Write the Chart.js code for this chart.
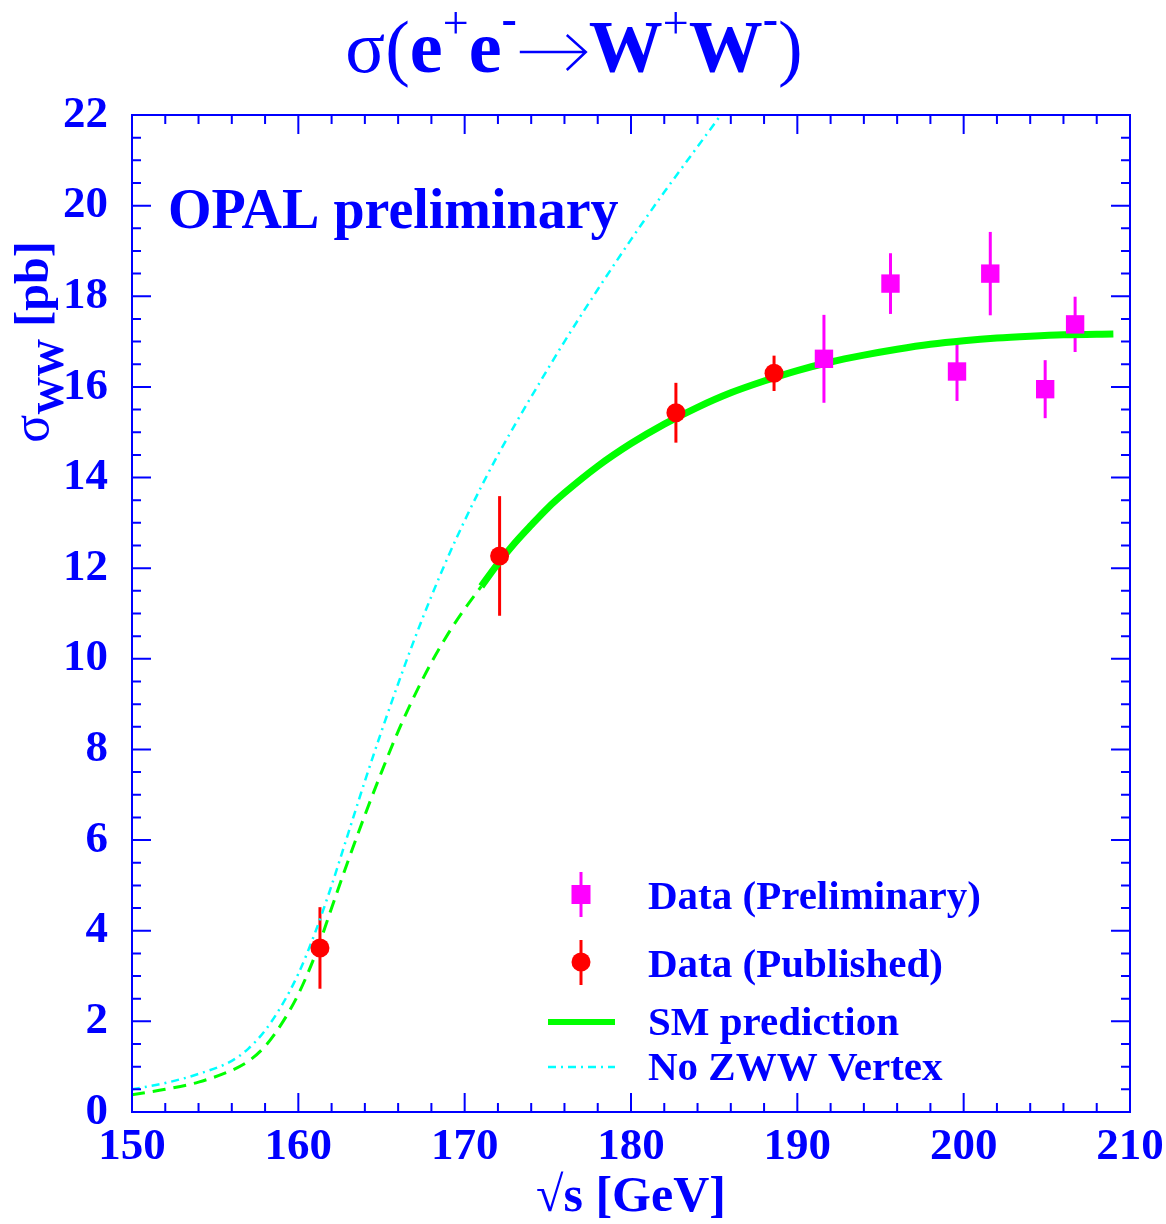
<!DOCTYPE html>
<html>
<head>
<meta charset="utf-8">
<script src="https://cdn.jsdelivr.net/npm/chart.js@4.4.1/dist/chart.umd.min.js"></script>
<style>
  html, body { margin: 0; padding: 0; background: #fff; }
  #wrap { width: 1166px; height: 1224px; position: relative; }
</style>
</head>
<body>
<div id="wrap"><canvas id="wwChart"></canvas></div>
<script>
const BLUE = '#0000ff';
const SERIF = '"Liberation Serif", "Times New Roman", serif';

// published points (red)
const pubX = [161.3, 172.1, 182.7, 188.6];
const pubY = [3.62, 12.27, 15.43, 16.30];
const pubErr = [0.90, 1.32, 0.66, 0.39];

// preliminary points (magenta)
const prelX = [191.6, 195.6, 199.6, 201.6, 204.9, 206.7];
const prelY = [16.62, 18.28, 16.34, 18.50, 15.95, 17.38];
const prelErr = [0.97, 0.67, 0.65, 0.92, 0.64, 0.61];

// SM prediction, dashed below ~171 GeV
const smLowX = [150, 152, 154, 156, 157, 158, 159, 160, 161, 162, 163, 164, 165, 166, 167, 168, 169, 170, 171];
const smLowY = [0.38, 0.50, 0.66, 0.92, 1.12, 1.45, 1.95, 2.60, 3.45, 4.50, 5.55, 6.55, 7.50, 8.40, 9.20, 9.92, 10.55, 11.10, 11.60];

// SM prediction, solid part
const smHighX = [171, 172, 173, 174, 175, 176, 178, 180, 182, 184, 186, 188, 190, 192, 194, 196, 198, 200, 202, 204, 206, 209];
const smHighY = [11.60, 12.10, 12.55, 12.95, 13.33, 13.66, 14.25, 14.75, 15.18, 15.55, 15.87, 16.13, 16.36, 16.55, 16.70, 16.83, 16.94, 17.02, 17.08, 17.12, 17.15, 17.17];

// no ZWW vertex curve
const noZX = [150, 152, 154, 156, 157, 158, 159, 160, 161, 162, 163, 164, 165, 166, 167, 168, 169, 170, 171, 172, 173, 174, 176, 178, 180, 182, 184, 185.4];
const noZY = [0.50, 0.64, 0.84, 1.13, 1.40, 1.80, 2.35, 3.05, 3.95, 5.00, 6.15, 7.30, 8.40, 9.45, 10.45, 11.38, 12.25, 13.05, 13.80, 14.50, 15.15, 15.78, 17.00, 18.15, 19.25, 20.30, 21.30, 22.00];

const xTicks = [150, 160, 170, 180, 190, 200, 210];
const yTicks = [0, 2, 4, 6, 8, 10, 12, 14, 16, 18, 20, 22];

const pts = (xs, ys) => xs.map((v, i) => ({ x: v, y: ys[i] }));

const errorBars = {
  id: 'errorBars',
  beforeDatasetsDraw(chart) {
    const { ctx, scales: { x, y } } = chart;
    ctx.save();
    ctx.lineWidth = 3;
    [[pubX, pubY, pubErr, '#ff0000'], [prelX, prelY, prelErr, '#ff00ff']].forEach(([xs, ys, es, col]) => {
      ctx.strokeStyle = col;
      xs.forEach((v, i) => {
        const px = x.getPixelForValue(v);
        ctx.beginPath();
        ctx.moveTo(px, y.getPixelForValue(ys[i] - es[i]));
        ctx.lineTo(px, y.getPixelForValue(ys[i] + es[i]));
        ctx.stroke();
      });
    });
    ctx.restore();
  }
};

// draws a row of text pieces (different sizes / offsets) centred on cx
function drawRuns(ctx, runs, cx, base) {
  let total = 0;
  runs.forEach(r => {
    if (r.arrow) { r.width = r.arrow; }
    else {
      ctx.font = `${r.w || 'bold'} ${r.s}px ${SERIF}`;
      r.width = ctx.measureText(r.t).width;
    }
    total += r.width;
  });
  let px = cx - total / 2;
  runs.forEach(r => {
    if (r.arrow) {
      const ay = base - 20, x0 = px + 3, x1 = px + r.width - 3;
      ctx.save();
      ctx.strokeStyle = ctx.fillStyle;
      ctx.lineWidth = 2.5;
      ctx.beginPath();
      ctx.moveTo(x0, ay); ctx.lineTo(x1, ay);
      ctx.moveTo(x1 - 19, ay - 17); ctx.lineTo(x1, ay); ctx.lineTo(x1 - 19, ay + 18);
      ctx.stroke();
      ctx.restore();
    } else {
      ctx.font = `${r.w || 'bold'} ${r.s}px ${SERIF}`;
      ctx.fillText(r.t, px, base + (r.dy || 0));
    }
    px += r.width;
  });
}

const decorations = {
  id: 'decorations',
  afterDraw(chart) {
    const { ctx, chartArea: a, scales: { x, y } } = chart;
    ctx.save();

    // frame + inward ticks on all four sides
    ctx.strokeStyle = BLUE;
    ctx.lineWidth = 2;
    ctx.strokeRect(a.left, a.top, a.right - a.left, a.bottom - a.top);
    ctx.beginPath();
    for (let v = 150; v <= 210; v += 2) {
      const px = x.getPixelForValue(v);
      const len = v % 10 === 0 ? 19 : 9;
      ctx.moveTo(px, a.bottom); ctx.lineTo(px, a.bottom - len);
      ctx.moveTo(px, a.top); ctx.lineTo(px, a.top + len);
    }
    for (let v = 0; v <= 22; v += 0.5) {
      const py = y.getPixelForValue(v);
      const len = v % 2 === 0 ? 19 : 9;
      ctx.moveTo(a.left, py); ctx.lineTo(a.left + len, py);
      ctx.moveTo(a.right, py); ctx.lineTo(a.right - len, py);
    }
    ctx.stroke();

    ctx.fillStyle = BLUE;
    ctx.textBaseline = 'alphabetic';
    ctx.textAlign = 'left';

    // title
    const big = 74, sup = 46;
    drawRuns(ctx, [
      { t: 'σ(', s: big, w: 'normal' },
      { t: 'e', s: big },
      { t: '+', s: sup, w: 'normal', dy: -34 },
      { t: 'e', s: big },
      { t: '-', s: sup, dy: -38 },
      { arrow: 72 },
      { t: 'W', s: big },
      { t: '+', s: sup, w: 'normal', dy: -34 },
      { t: 'W', s: big },
      { t: '-', s: sup, dy: -38 },
      { t: ')', s: big, w: 'normal' }
    ], 574, 72);

    // x title
    drawRuns(ctx, [{ t: '√s [GeV]', s: 50 }], (a.left + a.right) / 2, 1211);

    // y title (rotated)
    ctx.save();
    ctx.translate(48, 342);
    ctx.rotate(-Math.PI / 2);
    drawRuns(ctx, [
      { t: 'σ', s: 52, w: 'normal' },
      { t: 'WW', s: 38, dy: 15 },
      { t: ' [pb]', s: 48 }
    ], 0, 0);
    ctx.restore();

    // experiment label
    ctx.font = `bold 56px ${SERIF}`;
    ctx.fillText('OPAL preliminary', 168, 228);

    // legend
    const mx = 581;
    ctx.lineWidth = 3;
    ctx.strokeStyle = '#ff00ff';
    ctx.beginPath(); ctx.moveTo(mx, 872); ctx.lineTo(mx, 917); ctx.stroke();
    ctx.fillStyle = '#ff00ff';
    ctx.fillRect(mx - 9.5, 885, 19, 19);
    ctx.strokeStyle = '#ff0000';
    ctx.beginPath(); ctx.moveTo(mx, 940); ctx.lineTo(mx, 985); ctx.stroke();
    ctx.fillStyle = '#ff0000';
    ctx.beginPath(); ctx.arc(mx, 962, 9.5, 0, Math.PI * 2); ctx.fill();
    ctx.strokeStyle = '#00ff00';
    ctx.lineWidth = 6;
    ctx.beginPath(); ctx.moveTo(548, 1022); ctx.lineTo(615, 1022); ctx.stroke();
    ctx.strokeStyle = '#00ffff';
    ctx.lineWidth = 2.5;
    ctx.setLineDash([8, 5, 2, 5]);
    ctx.beginPath(); ctx.moveTo(548, 1067); ctx.lineTo(615, 1067); ctx.stroke();
    ctx.setLineDash([]);

    ctx.fillStyle = BLUE;
    ctx.font = `bold 41px ${SERIF}`;
    ctx.fillText('Data (Preliminary)', 648, 909);
    ctx.fillText('Data (Published)', 648, 977);
    ctx.fillText('SM prediction', 648, 1035);
    ctx.fillText('No ZWW Vertex', 648, 1080);

    ctx.restore();
  }
};

new Chart(document.getElementById('wwChart'), {
  type: 'scatter',
  data: {
    datasets: [
      {
        label: 'Data (Preliminary)',
        data: pts(prelX, prelY),
        pointStyle: 'rect',
        pointRadius: 13,
        backgroundColor: '#ff00ff',
        borderWidth: 0
      },
      {
        label: 'Data (Published)',
        data: pts(pubX, pubY),
        pointStyle: 'circle',
        pointRadius: 9.5,
        backgroundColor: '#ff0000',
        borderWidth: 0
      },
      {
        label: 'SM prediction',
        data: pts(smHighX, smHighY),
        showLine: true,
        borderColor: '#00ff00',
        borderWidth: 7,
        pointRadius: 0,
        cubicInterpolationMode: 'monotone'
      },
      {
        label: 'SM prediction (low)',
        data: pts(smLowX, smLowY),
        showLine: true,
        borderColor: '#00ff00',
        borderWidth: 3,
        borderDash: [13, 8],
        pointRadius: 0,
        cubicInterpolationMode: 'monotone'
      },
      {
        label: 'No ZWW Vertex',
        data: pts(noZX, noZY),
        showLine: true,
        borderColor: '#00ffff',
        borderWidth: 2.5,
        borderDash: [8, 5, 2, 5],
        pointRadius: 0,
        cubicInterpolationMode: 'monotone'
      }
    ]
  },
  options: {
    responsive: true,
    maintainAspectRatio: false,
    animation: false,
    layout: { padding: { top: 115, right: 36, left: 0, bottom: 0 } },
    plugins: {
      legend: { display: false },
      tooltip: { enabled: false }
    },
    scales: {
      x: {
        type: 'linear',
        min: 150,
        max: 210,
        afterBuildTicks: s => { s.ticks = xTicks.map(v => ({ value: v })); },
        afterFit: s => { s.height = 112; s.paddingLeft = 0; s.paddingRight = 0; },
        grid: { display: false, drawTicks: false },
        border: { display: false },
        ticks: {
          color: BLUE,
          padding: 8,
          maxRotation: 0,
          font: { family: SERIF, size: 45, weight: 'bold' }
        }
      },
      y: {
        min: 0,
        max: 22,
        afterBuildTicks: s => { s.ticks = yTicks.map(v => ({ value: v })); },
        afterFit: s => { s.width = 132; s.paddingTop = 0; s.paddingBottom = 0; },
        grid: { display: false, drawTicks: false },
        border: { display: false },
        ticks: {
          color: BLUE,
          padding: 24,
          font: { family: SERIF, size: 45, weight: 'bold' }
        }
      }
    }
  },
  plugins: [errorBars, decorations]
});
</script>
</body>
</html>
